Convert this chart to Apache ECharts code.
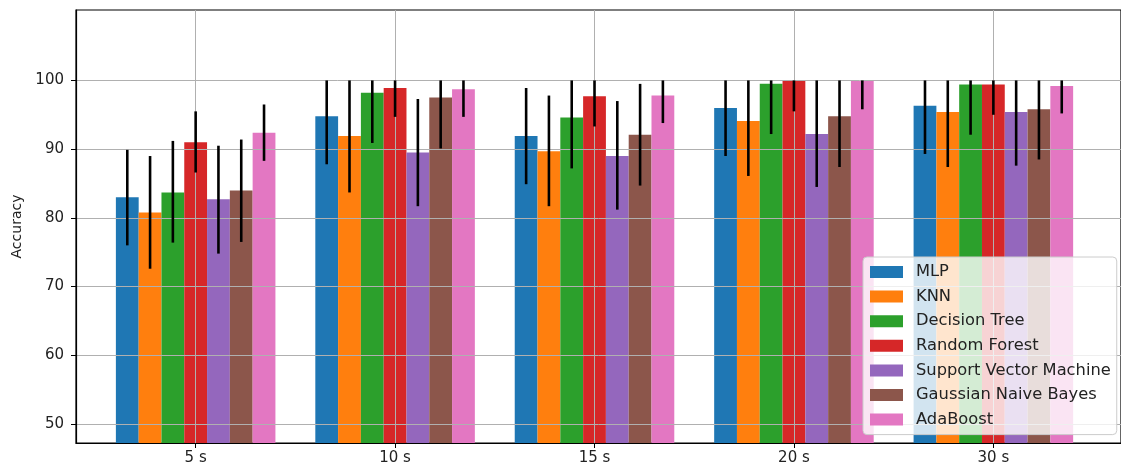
<!DOCTYPE html>
<html>
<head>
<meta charset="utf-8">
<script src="https://cdn.jsdelivr.net/npm/echarts@6/dist/echarts.min.js"></script>
<style>
  html, body { margin: 0; padding: 0; background: #fff; }
  #chart { width: 1121px; height: 470px; }
</style>
</head>
<body>
<div id="chart"></div>
<script>
var categories = ["5 s", "10 s", "15 s", "20 s", "30 s"];
var models = ["MLP", "KNN", "Decision Tree", "Random Forest", "Support Vector Machine", "Gaussian Naive Bayes", "AdaBoost"];
var colors = ["#1f77b4", "#ff7f0e", "#2ca02c", "#d62728", "#9467bd", "#8c564b", "#e377c2"];
var yTicks = [50, 60, 70, 80, 90, 100];

// mean accuracy per model
var mlp = [83.0, 94.8, 91.9, 96.0, 96.3];
var knn = [80.8, 91.9, 89.7, 94.1, 95.4];
var tree = [83.7, 98.2, 94.6, 99.5, 99.4];
var forest = [91.0, 98.9, 97.7, 99.9, 99.4];
var svm = [82.7, 89.5, 89.0, 92.2, 95.4];
var gnb = [84.0, 97.5, 92.1, 94.8, 95.8];
var ada = [92.4, 98.7, 97.8, 99.9, 99.2];

// error bar low / high ends
var mlpLo = [76.0, 87.8, 84.9, 89.0, 89.3];
var mlpHi = [89.9, 100, 98.9, 100, 100];
var knnLo = [72.6, 83.7, 81.7, 86.1, 87.4];
var knnHi = [89.0, 100, 97.8, 100, 100];
var treeLo = [76.4, 90.9, 87.2, 92.2, 92.1];
var treeHi = [91.2, 100, 100, 100, 100];
var forestLo = [86.6, 94.7, 93.3, 95.5, 95.0];
var forestHi = [95.5, 100, 100, 100, 100];
var svmLo = [74.8, 81.7, 81.2, 84.5, 87.6];
var svmHi = [90.5, 97.3, 97.0, 100, 100];
var gnbLo = [76.5, 90.1, 84.7, 87.4, 88.5];
var gnbHi = [91.4, 100, 99.5, 100, 100];
var adaLo = [88.3, 94.7, 93.8, 95.8, 95.2];
var adaHi = [96.5, 100, 100, 100, 100];

var means = [mlp, knn, tree, forest, svm, gnb, ada];
var lows = [mlpLo, knnLo, treeLo, forestLo, svmLo, gnbLo, adaLo];
var highs = [mlpHi, knnHi, treeHi, forestHi, svmHi, gnbHi, adaHi];

var Y_MIN = 47.24, Y_MAX = 110.25;
var X_MIN = -0.6, X_MAX = 4.64;
var barW = 0.8 / 7;
var font = "DejaVu Sans";

var chart = echarts.init(document.getElementById("chart"));

function barRender(i) {
  return function (params, api) {
    var x = api.value(0) + (i - 3) * barW;
    var p1 = api.coord([x - barW / 2, api.value(1)]);
    var p2 = api.coord([x + barW / 2, Y_MIN]);
    return {
      type: "rect",
      shape: { x: p1[0], y: p1[1], width: p2[0] - p1[0], height: p2[1] - p1[1] },
      style: { fill: api.visual("color") }
    };
  };
}

function errRender(i) {
  return function (params, api) {
    var x = api.value(0) + (i - 3) * barW;
    var lo = api.coord([x, api.value(1)]);
    var hi = api.coord([x, api.value(2)]);
    return {
      type: "line",
      shape: { x1: lo[0], y1: lo[1], x2: hi[0], y2: hi[1] },
      style: { stroke: "#000", lineWidth: 2.6 }
    };
  };
}

var series = [];
models.forEach(function (name, i) {
  series.push({
    name: name,
    type: "custom",
    z: 1,
    itemStyle: { color: colors[i] },
    encode: { x: 0, y: 1 },
    renderItem: barRender(i),
    data: means[i].map(function (v, k) { return [k, v]; })
  });
});
models.forEach(function (name, i) {
  series.push({
    name: "err " + name,
    type: "custom",
    z: 5,
    encode: { x: 0, y: [1, 2] },
    renderItem: errRender(i),
    data: lows[i].map(function (v, k) { return [k, v, highs[i][k]]; })
  });
});

chart.setOption({
  animation: false,
  backgroundColor: "#fff",
  grid: {
    left: 76, right: -12, top: 10, bottom: 27,
    containLabel: false,
    show: true, borderColor: "#000", borderWidth: 1.2
  },
  legend: {
    data: models,
    orient: "vertical",
    left: 863, top: 257,
    z: 10,
    icon: "rect",
    itemWidth: 33, itemHeight: 12,
    itemGap: 6.6, itemTextGap: 5,
    padding: [6, 6, 6, 7],
    backgroundColor: "rgba(255,255,255,0.8)",
    borderColor: "#cccccc", borderWidth: 1, borderRadius: 4,
    textStyle: { fontFamily: font, fontSize: 16.3, color: "#222", lineHeight: 18, padding: [0, 0, 0, 8] }
  },
  xAxis: {
    type: "value",
    min: X_MIN, max: X_MAX,
    z: 3,
    axisLine: { show: true, onZero: false, lineStyle: { color: "#000", width: 1.2 } },
    axisTick: { show: true, customValues: [0, 1, 2, 3, 4], length: 5, lineStyle: { color: "#000" } },
    axisLabel: {
      customValues: [0, 1, 2, 3, 4],
      margin: 8,
      fontFamily: font, fontSize: 15, color: "#222",
      formatter: function (v) { return categories[Math.round(v)]; }
    },
    splitLine: { show: true, lineStyle: { color: "#b0b0b0", width: 1 } }
  },
  yAxis: {
    type: "value",
    min: Y_MIN, max: Y_MAX,
    z: 3,
    name: "Accuracy",
    nameLocation: "middle",
    nameRotate: 90,
    nameGap: 52,
    nameTextStyle: { fontFamily: font, fontSize: 14, color: "#222" },
    axisLine: { show: true, onZero: false, lineStyle: { color: "#000", width: 1.2 } },
    axisTick: { show: true, customValues: yTicks, length: 5, lineStyle: { color: "#000" } },
    axisLabel: {
      customValues: yTicks,
      margin: 12,
      fontFamily: font, fontSize: 15, color: "#222"
    },
    splitLine: { show: true, lineStyle: { color: "#b0b0b0", width: 1 } }
  },
  series: series
});
</script>
</body>
</html>
